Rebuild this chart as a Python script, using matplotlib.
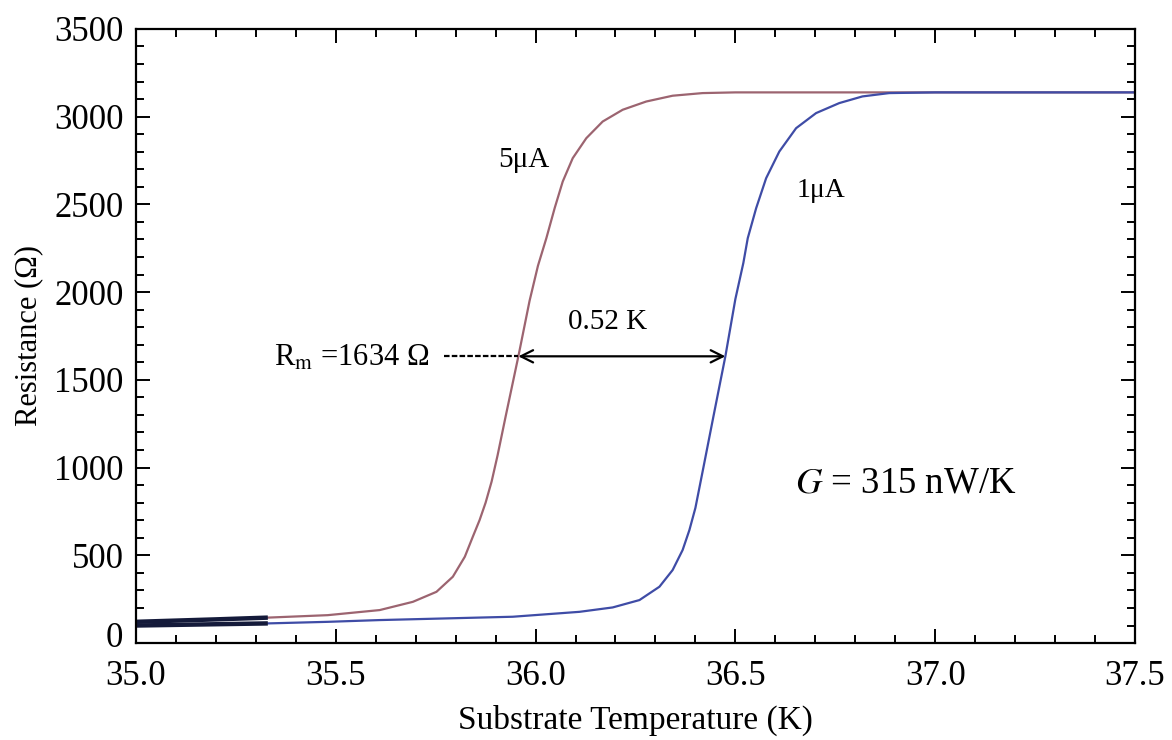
import matplotlib
matplotlib.use("Agg")
import matplotlib.pyplot as plt
from matplotlib.ticker import MultipleLocator, FormatStrFormatter, FuncFormatter

plt.rcParams['font.family'] = ['Liberation Serif', 'DejaVu Serif']
plt.rcParams['mathtext.fontset'] = 'stix'

# R(T), 5 uA bias
t_5ua = [35.00, 35.20, 35.33, 35.48, 35.61, 35.693, 35.752, 35.793, 35.823, 35.843,
         35.86, 35.875, 35.89, 35.905, 35.925, 35.957, 35.985, 36.006, 36.027, 36.048,
         36.068, 36.093, 36.127, 36.168, 36.218, 36.277, 36.343, 36.418, 36.50, 37.00,
         37.50]
r_5ua = [121, 135, 145, 159, 188, 235, 292, 378, 492, 606,
         701, 800, 920, 1070, 1290, 1634, 1950, 2150, 2307, 2480,
         2630, 2763, 2877, 2972, 3039, 3086, 3119, 3134, 3138, 3138,
         3138]

# R(T), 1 uA bias
t_1ua = [35.00, 35.33, 35.48, 35.61, 35.943, 36.11, 36.193, 36.26, 36.31, 36.343,
         36.368, 36.385, 36.40, 36.42, 36.445, 36.475, 36.50, 36.52, 36.531, 36.552,
         36.577, 36.61, 36.652, 36.702, 36.76, 36.818, 36.885, 37.00, 37.50]
r_1ua = [100, 112, 121, 131, 150, 178, 203, 245, 321, 416,
         530, 644, 770, 1000, 1290, 1634, 1960, 2166, 2307, 2478,
         2649, 2801, 2934, 3020, 3077, 3115, 3134, 3138, 3138]

r_mid = 1634
t_mid_5ua = 35.957
t_mid_1ua = 36.475
dashed_from = 35.77
dark_until = 35.33   # scan shows the start of both traces inked darker

fig = plt.figure(figsize=(11.72, 7.40), dpi=100)
ax = fig.add_axes([0.116, 0.131, 0.8524, 0.830])

ax.plot(t_5ua, r_5ua, color='#9c6470', lw=1.6)
ax.plot(t_1ua, r_1ua, color='#3f4ca6', lw=1.6)
for t, r in ((t_5ua, r_5ua), (t_1ua, r_1ua)):
    tt = [a for a in t if a <= dark_until]
    ax.plot(tt, r[:len(tt)], color='#141a3a', lw=3.2, solid_capstyle='butt')

ax.set_xlim(35.0, 37.5)
ax.set_ylim(0, 3500)
ax.xaxis.set_major_locator(MultipleLocator(0.5))
ax.xaxis.set_minor_locator(MultipleLocator(0.1))
ax.yaxis.set_major_locator(MultipleLocator(500))
ax.yaxis.set_minor_locator(MultipleLocator(100))
ax.xaxis.set_major_formatter(FormatStrFormatter('%.1f'))
# the "0" is drawn by hand below, a bit higher, so it clears "35.0"
ax.yaxis.set_major_formatter(FuncFormatter(lambda v, p: '' if v == 0 else '%d' % v))
ax.tick_params(which='both', direction='in', top=True, right=True,
               labelsize=25, width=1.4)
ax.tick_params(axis='x', pad=12)
ax.tick_params(axis='y', pad=9)
ax.tick_params(which='major', length=10)
ax.tick_params(which='minor', length=6)
for s in ax.spines.values():
    s.set_linewidth(1.6)
ax.annotate('0', xy=(0, 0), xycoords='axes fraction', xytext=(-9, 3),
            textcoords='offset points', ha='right', va='center', fontsize=25)

ax.set_xlabel('Substrate Temperature (K)', fontsize=24, labelpad=9)
ax.set_ylabel('Resistance (Ω)', fontsize=22, labelpad=8)

# annotations
ax.plot([dashed_from, t_mid_5ua], [r_mid, r_mid], color='black', lw=1.6,
        ls=(0, (2.5, 1)))
ax.annotate('', xy=(t_mid_1ua, r_mid), xytext=(t_mid_5ua, r_mid),
            arrowprops=dict(arrowstyle='<->', color='black', lw=1.6,
                            mutation_scale=22, shrinkA=0, shrinkB=0))
ax.text(35.735, r_mid - 10, r'R$_\mathrm{m}$ =1634 Ω', fontsize=22,
        ha='right', va='center')
ax.text(36.18, 1830, '0.52 K', fontsize=21, ha='center', va='center')
ax.text(35.97, 2754, '5μA', fontsize=21, ha='center', va='center')
ax.text(36.715, 2577, '1μA', fontsize=20, ha='center', va='center')
ax.text(36.925, 912, r'$G$ = 315 nW/K', fontsize=26.5, ha='center', va='center')

fig.savefig('out.png', dpi=100)
